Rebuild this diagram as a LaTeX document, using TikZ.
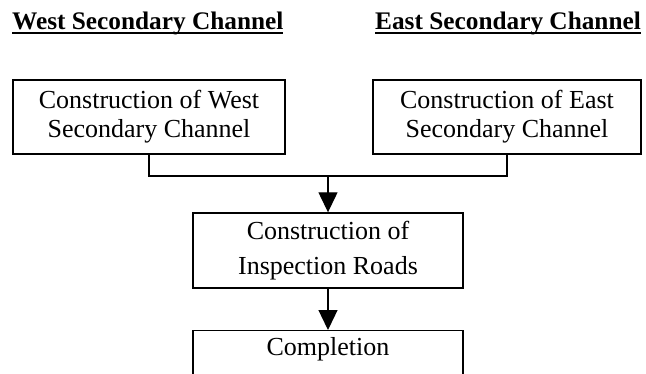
\documentclass[tikz,border=0pt]{standalone}
\usepackage{fontspec}
\setmainfont{Liberation Serif}
\usetikzlibrary{arrows.meta}
\newcommand\myul[1]{\setbox0\hbox{#1}\rlap{\rule[-4.5pt]{\wd0}{1.3pt}}\box0}
\begin{document}
\begin{tikzpicture}[x=1pt,y=-1pt,
  box/.style={draw,line width=1.4pt,inner sep=0pt,align=center,font=\fontsize{26}{29}\selectfont},
  title/.style={inner sep=0pt,anchor=base west,font=\fontsize{25.3}{28}\bfseries\selectfont},
  conn/.style={line width=1.3pt},
  arr/.style={conn,-{Triangle[width=19pt,length=20pt]}}]
\useasboundingbox (0,0) rectangle (646,373);
\node[title] (tw) at (12,29) {\myul{West Secondary Channel}};
\node[title] (te) at (375,29) {\myul{East Secondary Channel}};
\node[box,minimum width=272pt,minimum height=74pt] (lw) at (149,117) {Construction of West\\Secondary Channel};
\node[box,minimum width=268pt,minimum height=74pt] (rw) at (507,117) {Construction of East\\Secondary Channel};
\node[box,minimum width=270pt,minimum height=75pt,font=\fontsize{26}{35}\selectfont] (ins) at (328,250.5) {Construction of\\Inspection Roads};
\node[box,anchor=north,minimum width=270pt,text height=25pt,text depth=35pt] (comp) at (328,330) {Completion};
\coordinate (j) at (328,176);
\draw[conn] (lw.south) |- (j) -| (rw.south);
\draw[arr] (j) -- (ins.north);
\draw[arr] (ins.south) -- (comp.north);
\end{tikzpicture}
\end{document}
